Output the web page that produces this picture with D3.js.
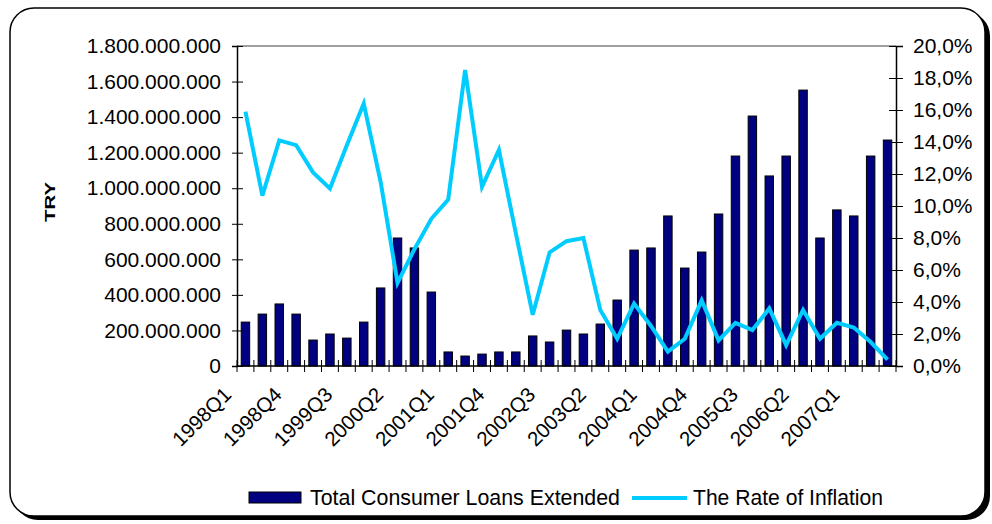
<!DOCTYPE html>
<html>
<head>
<meta charset="utf-8">
<script src="https://cdn.jsdelivr.net/npm/d3@7"></script>
<style>
  html, body { margin: 0; padding: 0; background: #ffffff; }
  svg { display: block; }
  text { font-family: "Liberation Sans", Arial, sans-serif; fill: #000; }
</style>
</head>
<body>
<svg id="chart" width="992" height="524"></svg>
<script>
// Quarterly categories
const quarters = [
  "1998Q1","1998Q2","1998Q3","1998Q4","1999Q1","1999Q2","1999Q3","1999Q4",
  "2000Q1","2000Q2","2000Q3","2000Q4","2001Q1","2001Q2","2001Q3","2001Q4",
  "2002Q1","2002Q2","2002Q3","2002Q4","2003Q1","2003Q2","2003Q3","2003Q4",
  "2004Q1","2004Q2","2004Q3","2004Q4","2005Q1","2005Q2","2005Q3","2005Q4",
  "2006Q1","2006Q2","2006Q3","2006Q4","2007Q1","2007Q2","2007Q3"
];

// Quarters that carry a label on the category axis
const labelledQuarters = [
  "1998Q1","1998Q4","1999Q3","2000Q2","2001Q1","2001Q4","2002Q3",
  "2003Q2","2004Q1","2004Q4","2005Q3","2006Q2","2007Q1"
];

// Total consumer loans extended (TRY)
const consumerLoans = [
  247000000, 292000000, 349000000, 292000000, 146000000, 180000000, 157000000, 247000000,
  439000000, 720000000, 664000000, 416000000, 79000000, 56000000, 67000000, 79000000,
  79000000, 169000000, 135000000, 202000000, 180000000, 236000000, 371000000, 652000000,
  664000000, 844000000, 551000000, 641000000, 855000000, 1181000000, 1406000000, 1069000000,
  1181000000, 1552000000, 720000000, 878000000, 844000000, 1181000000, 1271000000
];

// Rate of inflation (%)
const inflationRate = [
  15.9, 10.65, 14.1, 13.8, 12.1, 11.1, 13.8, 16.4,
  11.5, 5.2, 7.3, 9.2, 10.4, 18.5, 11.2, 13.5,
  8.3, 3.2, 7.1, 7.8, 8.0, 3.5, 1.7, 3.9,
  2.5, 0.9, 1.7, 4.1, 1.6, 2.7, 2.25, 3.6,
  1.3, 3.5, 1.7, 2.7, 2.4, 1.5, 0.4
];

// Axis ticks
const loanTicks = [0, 200000000, 400000000, 600000000, 800000000, 1000000000, 1200000000, 1400000000, 1600000000, 1800000000];
const rateTicks = [0, 2, 4, 6, 8, 10, 12, 14, 16, 18, 20];

const seriesNames = ["Total Consumer Loans Extended", "The Rate of Inflation"];
const axisTitle = "TRY";

const BAR_COLOR = "#000080";
const LINE_COLOR = "#00ccff";

const svg = d3.select("#chart");

// Rounded frame with a drop shadow
svg.append("rect")
  .attr("x", 14).attr("y", 12).attr("width", 976).attr("height", 508)
  .attr("rx", 24).attr("ry", 24).attr("fill", "#000");
svg.append("rect")
  .attr("x", 10).attr("y", 8).attr("width", 975).attr("height", 508)
  .attr("rx", 24).attr("ry", 24)
  .attr("fill", "#fff").attr("stroke", "#000").attr("stroke-width", 1.5);

const plot = { left: 237, right: 896, top: 46, bottom: 366 };

const x = d3.scaleBand().domain(quarters).range([plot.left, plot.right]).padding(0);
const yLoans = d3.scaleLinear().domain([0, 1800000000]).range([plot.bottom, plot.top]);
const yRate = d3.scaleLinear().domain([0, 20]).range([plot.bottom, plot.top]);

const trLocale = d3.formatLocale({ decimal: ",", thousands: ".", grouping: [3], currency: ["", ""] });
const fmtLoans = trLocale.format(",.0f");
const fmtRate = trLocale.format(".1f");

// Top border of the plot area
svg.append("line")
  .attr("x1", plot.left).attr("x2", plot.right)
  .attr("y1", plot.top).attr("y2", plot.top)
  .attr("stroke", "#808080").attr("stroke-width", 1.5);

// Bars
const barW = x.bandwidth() * 0.5;
svg.append("g").selectAll("rect")
  .data(quarters)
  .join("rect")
  .attr("x", d => x(d) + (x.bandwidth() - barW) / 2)
  .attr("y", (d, i) => yLoans(consumerLoans[i]))
  .attr("width", barW)
  .attr("height", (d, i) => yLoans(0) - yLoans(consumerLoans[i]))
  .attr("fill", BAR_COLOR)
  .attr("stroke", "#000")
  .attr("stroke-width", 1);

// Left axis
const leftAxis = svg.append("g")
  .attr("transform", `translate(${plot.left},0)`)
  .call(d3.axisLeft(yLoans).tickValues(loanTicks).tickFormat(fmtLoans).tickSize(5).tickPadding(11));
leftAxis.select(".domain").attr("stroke", "#000").attr("stroke-width", 1.5);
leftAxis.selectAll(".tick line").attr("x1", 6).attr("stroke-width", 1);
leftAxis.selectAll(".tick text").attr("font-size", 21).attr("font-family", "Liberation Sans, Arial, sans-serif");

// Right axis
const rightAxis = svg.append("g")
  .attr("transform", `translate(${plot.right},0)`)
  .call(d3.axisRight(yRate).tickValues(rateTicks).tickFormat(d => fmtRate(d) + "%").tickSize(7).tickPadding(10));
rightAxis.select(".domain").attr("stroke", "#000").attr("stroke-width", 1.5);
rightAxis.selectAll(".tick line").attr("x1", -7).attr("stroke-width", 1);
rightAxis.selectAll(".tick text").attr("font-size", 21).attr("font-family", "Liberation Sans, Arial, sans-serif");

// Category axis: ticks on the band boundaries
const boundaries = quarters.map(q => x(q)).concat([plot.right]);
const bottomAxis = svg.append("g");
bottomAxis.append("line")
  .attr("x1", plot.left).attr("x2", plot.right)
  .attr("y1", plot.bottom).attr("y2", plot.bottom)
  .attr("stroke", "#000").attr("stroke-width", 1.5);
bottomAxis.selectAll("line.tick")
  .data(boundaries)
  .join("line")
  .attr("class", "tick")
  .attr("x1", d => d).attr("x2", d => d)
  .attr("y1", plot.bottom - 6).attr("y2", plot.bottom + 6)
  .attr("stroke", "#000").attr("stroke-width", 1);
bottomAxis.selectAll("text")
  .data(labelledQuarters)
  .join("text")
  .attr("transform", d => `translate(${x(d) + x.bandwidth() / 2 - 13},${plot.bottom + 30}) rotate(-45)`)
  .attr("text-anchor", "end")
  .attr("font-size", 20.5)
  .text(d => d);

// Inflation line
const line = d3.line()
  .x((d, i) => x(quarters[i]) + x.bandwidth() / 2)
  .y(d => yRate(d));
svg.append("path")
  .datum(inflationRate)
  .attr("d", line)
  .attr("fill", "none")
  .attr("stroke", LINE_COLOR)
  .attr("stroke-width", 4)
  .attr("stroke-linejoin", "miter");

// Axis title
svg.append("text")
  .attr("transform", "translate(55,202) rotate(-90)")
  .attr("text-anchor", "middle")
  .attr("font-size", 15)
  .attr("font-weight", "bold")
  .attr("textLength", 40)
  .attr("lengthAdjust", "spacingAndGlyphs")
  .text(axisTitle);

// Legend
const legend = svg.append("g");
legend.append("rect")
  .attr("x", 249).attr("y", 492).attr("width", 52).attr("height", 11)
  .attr("fill", BAR_COLOR).attr("stroke", "#000").attr("stroke-width", 1);
legend.append("text")
  .attr("x", 310).attr("y", 505)
  .attr("font-size", 22)
  .attr("textLength", 310)
  .attr("lengthAdjust", "spacingAndGlyphs")
  .text(seriesNames[0]);
legend.append("line")
  .attr("x1", 632).attr("x2", 687).attr("y1", 498).attr("y2", 498)
  .attr("stroke", LINE_COLOR).attr("stroke-width", 4);
legend.append("text")
  .attr("x", 693).attr("y", 505)
  .attr("font-size", 22)
  .attr("textLength", 190)
  .attr("lengthAdjust", "spacingAndGlyphs")
  .text(seriesNames[1]);
</script>
</body>
</html>
